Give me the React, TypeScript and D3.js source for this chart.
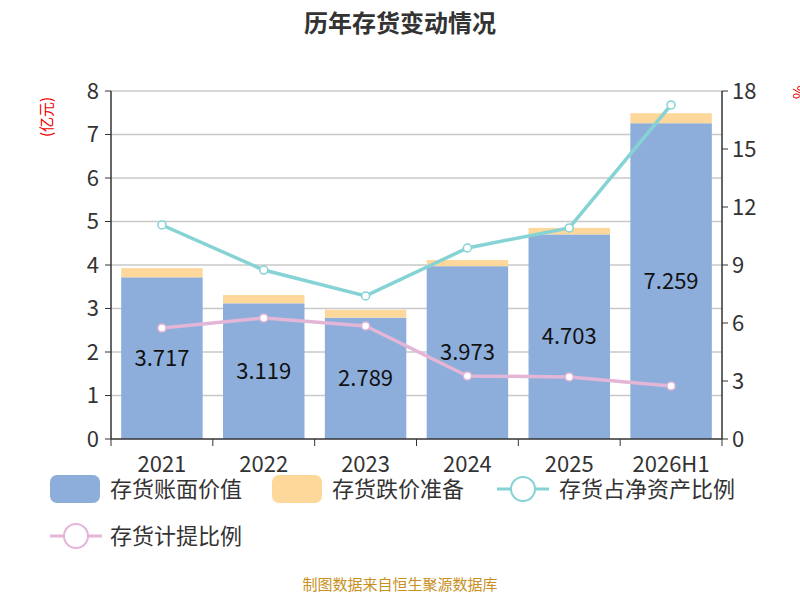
import React from 'react';
import * as d3 from 'd3';

const years = ['2021', '2022', '2023', '2024', '2025', '2026H1'];
const bookValue = [3.717, 3.119, 2.789, 3.973, 4.703, 7.259];
const reserve = [0.21, 0.19, 0.18, 0.14, 0.15, 0.23];
const netAssetRatio = [11.07, 8.74, 7.4, 9.88, 10.92, 17.28];
const provisionRatio = [5.74, 6.26, 5.85, 3.26, 3.21, 2.74];
const leftTicks = [0, 1, 2, 3, 4, 5, 6, 7, 8];
const rightTicks = [0, 3, 6, 9, 12, 15, 18];

const FONT = '"Noto Sans CJK SC", "Noto Sans", sans-serif';

export default function App() {
  const W = 800, H = 600;
  const m = { left: 111, right: 722, top: 91, bottom: 439 };
  const x = d3.scaleBand().domain(years).range([m.left, m.right]).paddingInner(0.2).paddingOuter(0.1);
  const band = d3.scaleBand().domain(years).range([m.left, m.right]);
  const yL = d3.scaleLinear().domain([0, 8]).range([m.bottom, m.top]);
  const yR = d3.scaleLinear().domain([0, 18]).range([m.bottom, m.top]);
  const cx = (d: string) => band(d)! + band.bandwidth() / 2;
  const line = d3.line<number>().x((_, i) => cx(years[i])).y(v => yR(v));

  return (
    <svg width={W} height={H} style={{ position: 'absolute', left: 0, top: 0, fontFamily: FONT }}>
      <rect width={W} height={H} fill="#fff" />
      <text x={400} y={32} textAnchor="middle" fontSize={24} fontWeight="bold" fill="#333">历年存货变动情况</text>
      <text transform="translate(52,117) rotate(-90)" textAnchor="middle" fontSize={15} fill="#e00">(亿元)</text>
      <text transform="translate(804,92) rotate(-90)" textAnchor="middle" fontSize={15} fill="#e00">%</text>
      {leftTicks.map(t => (
        <g key={t}>
          {t > 0 && <line x1={m.left} x2={m.right} y1={yL(t)} y2={yL(t)} stroke="#c8c8c8" strokeWidth={1.5} />}
          <line x1={m.left - 6} x2={m.left} y1={yL(t)} y2={yL(t)} stroke="#333" />
          <text x={m.left - 12} y={yL(t)} dy="0.35em" textAnchor="end" fontSize={22} fill="#333">{t}</text>
        </g>
      ))}
      {rightTicks.map(t => (
        <g key={t}>
          <line x1={m.right} x2={m.right + 6} y1={yR(t)} y2={yR(t)} stroke="#333" />
          <text x={m.right + 10} y={yR(t)} dy="0.35em" fontSize={22} fill="#333">{t}</text>
        </g>
      ))}
      {years.map((y, i) => (
        <g key={y}>
          <rect x={x(y)} y={yL(bookValue[i])} width={x.bandwidth()} height={yL(0) - yL(bookValue[i])} fill="#8daedb" />
          <rect x={x(y)} y={yL(bookValue[i] + reserve[i])} width={x.bandwidth()} height={yL(0) - yL(reserve[i])} fill="#fdd89a" />
          <text x={cx(y)} y={yL(bookValue[i] / 2)} dy="0.35em" textAnchor="middle" fontSize={22} fill="#111">{bookValue[i].toFixed(3)}</text>
          <line x1={band(y)} x2={band(y)} y1={m.bottom} y2={m.bottom + 7} stroke="#333" />
          <text x={cx(y)} y={m.bottom + 25} dy="0.35em" textAnchor="middle" fontSize={22} fill="#333">{y}</text>
        </g>
      ))}
      <line x1={m.right} x2={m.right} y1={m.bottom} y2={m.bottom + 7} stroke="#333" />
      <line x1={m.left} x2={m.left} y1={m.top} y2={m.bottom} stroke="#333" strokeWidth={1.5} />
      <line x1={m.right} x2={m.right} y1={m.top} y2={m.bottom} stroke="#333" strokeWidth={1.5} />
      <line x1={m.left} x2={m.right} y1={m.bottom} y2={m.bottom} stroke="#333" strokeWidth={1.5} />
      {[{ d: netAssetRatio, c: '#86d3d6' }, { d: provisionRatio, c: '#e3b5d6' }].map(s => (
        <g key={s.c}>
          <path d={line(s.d)!} fill="none" stroke={s.c} strokeWidth={3.5} />
          {s.d.map((v, i) => <circle key={i} cx={cx(years[i])} cy={yR(v)} r={4} fill="#fff" stroke={s.c} strokeWidth={1.5} />)}
        </g>
      ))}
      <g fontSize={22} fill="#333">
        <rect x={50} y={475} width={50} height={28} rx={7} fill="#8daedb" />
        <text x={110} y={489} dy="0.35em">存货账面价值</text>
        <rect x={272} y={475} width={50} height={28} rx={7} fill="#fdd89a" />
        <text x={332} y={489} dy="0.35em">存货跌价准备</text>
        <line x1={497} x2={549} y1={489} y2={489} stroke="#86d3d6" strokeWidth={3} />
        <circle cx={523} cy={489} r={12} fill="#fff" stroke="#86d3d6" strokeWidth={2} />
        <text x={559} y={489} dy="0.35em">存货占净资产比例</text>
        <line x1={50} x2={102} y1={536} y2={536} stroke="#e3b5d6" strokeWidth={3} />
        <circle cx={76} cy={536} r={12} fill="#fff" stroke="#e3b5d6" strokeWidth={2} />
        <text x={110} y={536} dy="0.35em">存货计提比例</text>
      </g>
      <text x={400} y={590} textAnchor="middle" fontSize={15} fill="#c8901e">制图数据来自恒生聚源数据库</text>
    </svg>
  );
}
